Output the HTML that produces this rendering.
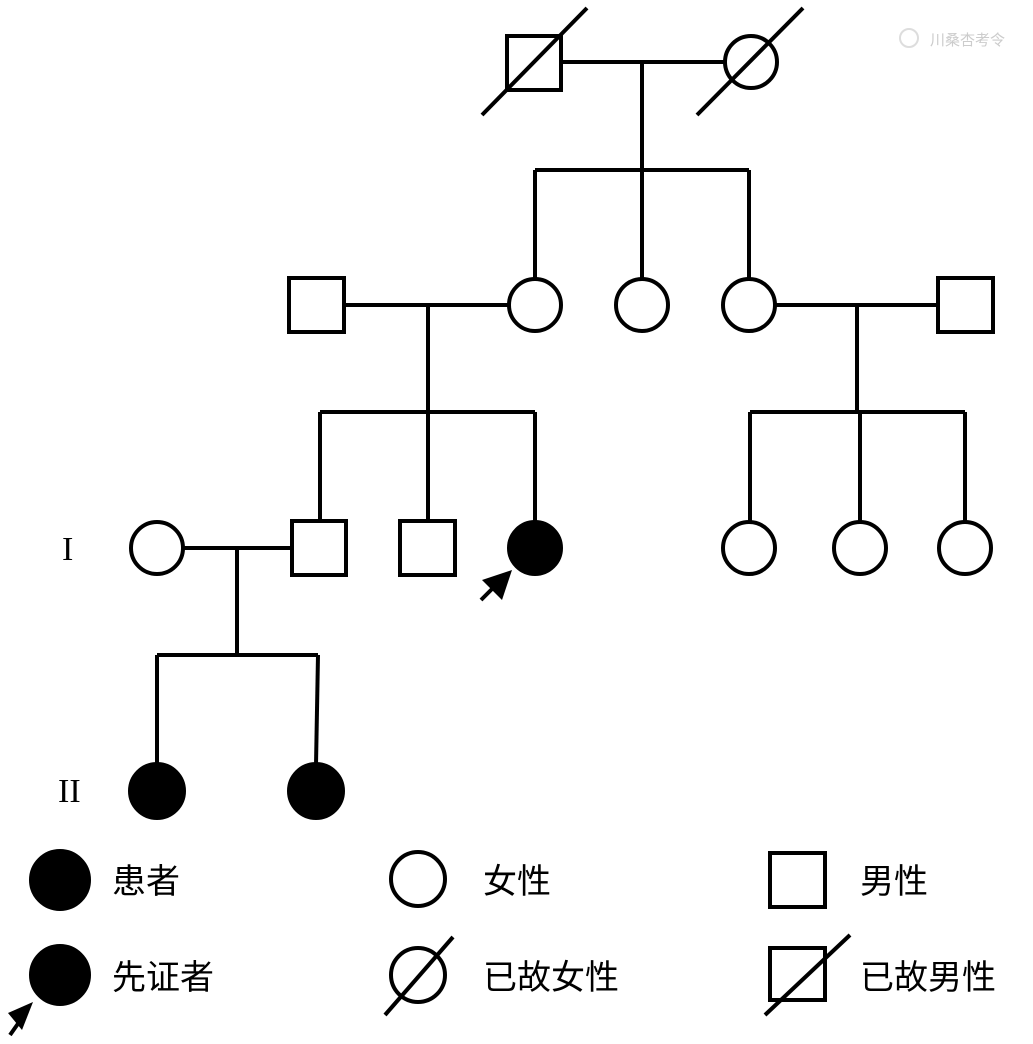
<!DOCTYPE html>
<html><head><meta charset="utf-8"><style>body{margin:0;background:#fff}svg{display:block}</style></head><body>
<svg width="1033" height="1044" viewBox="0 0 1033 1044" xmlns="http://www.w3.org/2000/svg">
<g stroke="#000" stroke-width="4" fill="none">
<!-- gen top -->
<rect x="507" y="36" width="54" height="54" fill="#fff"/>
<line x1="482" y1="115" x2="587" y2="8"/>
<circle cx="751" cy="62" r="26" fill="#fff"/>
<line x1="697" y1="115" x2="803" y2="8"/>
<line x1="561" y1="62" x2="725" y2="62"/>
<line x1="642" y1="62" x2="642" y2="170"/>
<line x1="535" y1="170" x2="749" y2="170"/>
<line x1="535" y1="170" x2="535" y2="279"/>
<line x1="642" y1="170" x2="642" y2="279"/>
<line x1="749" y1="170" x2="749" y2="279"/>
<!-- row 2 -->
<rect x="289" y="278" width="55" height="54" fill="#fff"/>
<circle cx="535" cy="305" r="26" fill="#fff"/>
<circle cx="642" cy="305" r="26" fill="#fff"/>
<circle cx="749" cy="305" r="26" fill="#fff"/>
<rect x="938" y="278" width="55" height="54" fill="#fff"/>
<line x1="344" y1="305" x2="509" y2="305"/>
<line x1="428" y1="305" x2="428" y2="412"/>
<line x1="320" y1="412" x2="535" y2="412"/>
<line x1="320" y1="412" x2="320" y2="521"/>
<line x1="428" y1="412" x2="428" y2="521"/>
<line x1="535" y1="412" x2="535" y2="522"/>
<line x1="775" y1="305" x2="938" y2="305"/>
<line x1="857" y1="305" x2="857" y2="412"/>
<line x1="750" y1="412" x2="965" y2="412"/>
<line x1="750" y1="412" x2="750" y2="522"/>
<line x1="860" y1="412" x2="860" y2="522"/>
<line x1="965" y1="412" x2="965" y2="522"/>
<!-- row 3 -->
<circle cx="157" cy="548" r="26" fill="#fff"/>
<rect x="292" y="521" width="54" height="54" fill="#fff"/>
<rect x="400" y="521" width="55" height="54" fill="#fff"/>
<circle cx="535" cy="548" r="26" fill="#000"/>
<circle cx="749" cy="548" r="26" fill="#fff"/>
<circle cx="860" cy="548" r="26" fill="#fff"/>
<circle cx="965" cy="548" r="26" fill="#fff"/>
<line x1="183" y1="548" x2="292" y2="548"/>
<line x1="237" y1="548" x2="237" y2="655"/>
<line x1="157" y1="655" x2="318" y2="655"/>
<line x1="157" y1="655" x2="157" y2="765"/>
<line x1="318" y1="655" x2="316" y2="765"/>
<line x1="481" y1="600" x2="505" y2="576"/>
<!-- row 4 -->
<circle cx="157" cy="791" r="27" fill="#000"/>
<circle cx="316" cy="791" r="27" fill="#000"/>
<!-- legend -->
<circle cx="60" cy="880" r="29" fill="#000"/>
<circle cx="418" cy="879" r="27" fill="#fff"/>
<rect x="770" y="853" width="55" height="54" fill="#fff"/>
<circle cx="60" cy="975" r="29" fill="#000"/>
<line x1="10" y1="1035" x2="22" y2="1018"/>
<circle cx="418" cy="975" r="27" fill="#fff"/>
<line x1="385" y1="1015" x2="453" y2="937"/>
<rect x="770" y="948" width="55" height="52" fill="#fff"/>
<line x1="765" y1="1015" x2="850" y2="935"/>
</g>
<polygon points="512,570 482,580 502,600" fill="#000"/>
<polygon points="33,1002 8,1013 22,1030" fill="#000"/>
<g font-family="Liberation Serif, serif" font-size="34" fill="#000">
<text x="62" y="560">I</text>
<text x="58" y="802">II</text>
</g>
<g font-family="Liberation Sans, Noto Sans CJK SC, sans-serif" font-size="34" fill="#000">
<text x="112" y="893">患者</text>
<text x="483" y="893">女性</text>
<text x="860" y="893">男性</text>
<text x="112" y="989">先证者</text>
<text x="483" y="989">已故女性</text>
<text x="860" y="989">已故男性</text>
</g>
<text x="930" y="45" font-family="Noto Sans CJK SC, sans-serif" font-size="15" fill="#ccc">川桑杏考令</text>
<circle cx="909" cy="38" r="9" fill="none" stroke="#ddd" stroke-width="2"/>
</svg>
</body></html>
